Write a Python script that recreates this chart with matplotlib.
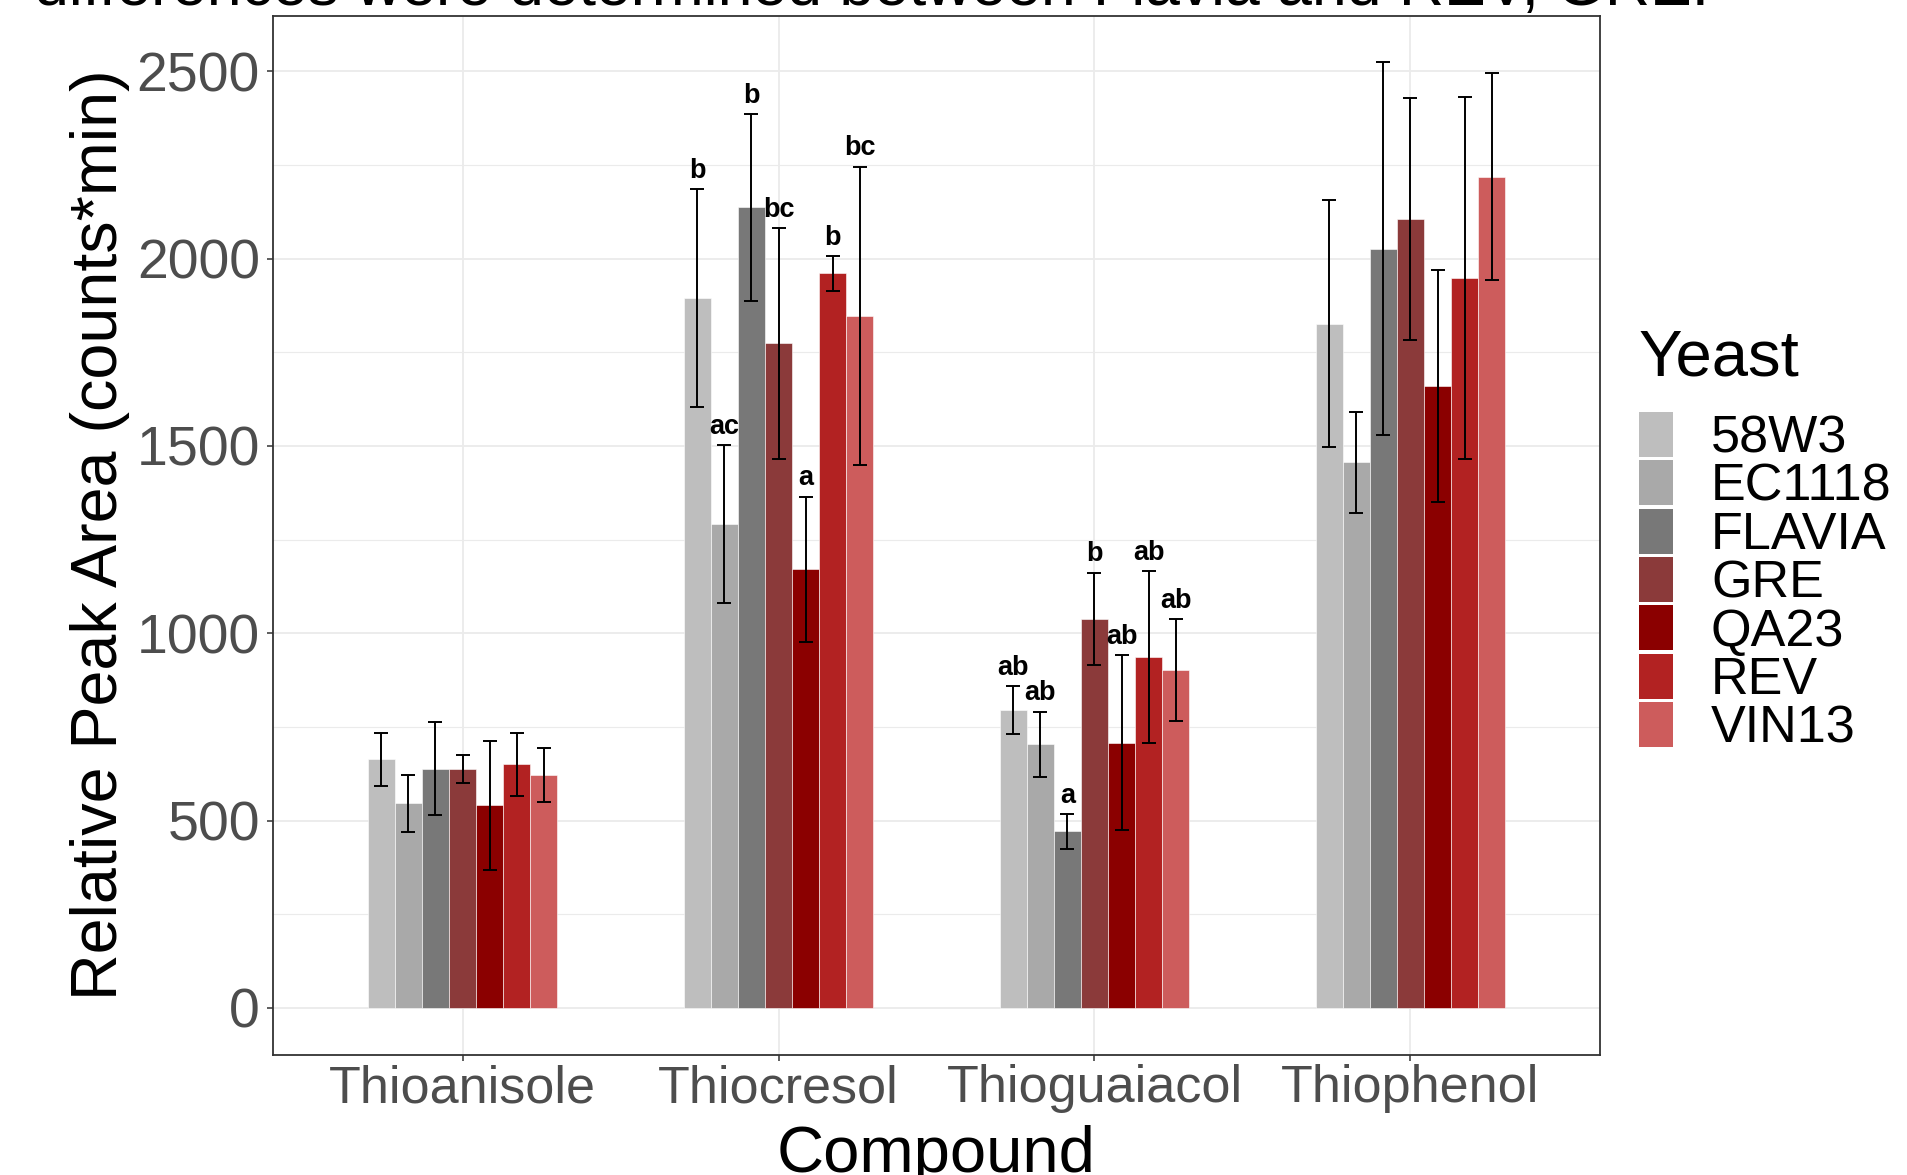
import numpy as np
import matplotlib.pyplot as plt
from matplotlib.patches import Rectangle

plt.rcParams['font.family'] = ['Liberation Sans', 'DejaVu Sans']

# data
compounds = ['Thioanisole', 'Thiocresol', 'Thioguaiacol', 'Thiophenol']
yeasts = ['58W3', 'EC1118', 'FLAVIA', 'GRE', 'QA23', 'REV', 'VIN13']
colors = ['#BEBEBE', '#A9A9A9', '#787878', '#8B3A3A', '#8B0000', '#B22222', '#CD5C5C']

# mean per yeast, one list per compound
thioanisole = [663, 546, 638, 638, 541, 650, 621]
thiocresol = [1895, 1292, 2137, 1774, 1171, 1961, 1847]
thioguaiacol = [795, 703, 471, 1038, 708, 937, 902]
thiophenol = [1827, 1456, 2027, 2106, 1661, 1949, 2219]

# error bar half widths
thioanisole_err = [71, 76, 124, 37, 172, 85, 72]
thiocresol_err = [292, 210, 250, 308, 194, 47, 399]
thioguaiacol_err = [63, 88, 47, 124, 233, 230, 136]
thiophenol_err = [331, 134, 497, 323, 310, 484, 277]

# significance letters (Thioanisole and Thiophenol have none)
thiocresol_lab = ['b', 'ac', 'b', 'bc', 'a', 'b', 'bc']
thioguaiacol_lab = ['ab', 'ab', 'a', 'b', 'ab', 'ab', 'ab']

means = np.array([thioanisole, thiocresol, thioguaiacol, thiophenol])
errs = np.array([thioanisole_err, thiocresol_err, thioguaiacol_err, thiophenol_err])
letters = [None, thiocresol_lab, thioguaiacol_lab, None]

W, H = 1908, 1175
fig = plt.figure(figsize=(W / 100, H / 100), dpi=100)
ax = fig.add_axes([273 / W, 1 - 1055 / H, (1600 - 273) / W, (1055 - 16) / H])

x = np.arange(1, len(compounds) + 1)
bw = 0.6 / len(yeasts)
for i, (yname, col) in enumerate(zip(yeasts, colors)):
    xs = x + (i - 3) * bw
    ax.bar(xs, means[:, i], width=bw, color=col, edgecolor='white', linewidth=0.4, zorder=2)
    ax.errorbar(xs, means[:, i], yerr=errs[:, i], fmt='none', ecolor='black',
                elinewidth=1.4, capsize=5, capthick=1.4, zorder=3)
    for j in range(len(compounds)):
        if letters[j] is not None:
            ax.annotate(letters[j][i], (xs[j], means[j, i] + errs[j, i]),
                        xytext=(0, 8), textcoords='offset points',
                        ha='center', va='baseline', fontsize=19.5, fontweight='bold', zorder=4)

ax.set_xlim(0.4, 4.6)
ax.set_ylim(-126, 2648)
ax.set_yticks([0, 500, 1000, 1500, 2000, 2500])
ax.set_yticks([250, 750, 1250, 1750, 2250], minor=True)
ax.set_xticks(x)
ax.set_xticklabels(compounds)
ax.grid(True, which='major', color='#EBEBEB', linewidth=1.3, zorder=0)
ax.grid(True, which='minor', axis='y', color='#EBEBEB', linewidth=0.8, zorder=0)
ax.set_axisbelow(True)
ax.tick_params(axis='both', which='major', length=4.5, width=1.1, color='#333333',
               labelcolor='#4D4D4D')
ax.tick_params(axis='y', which='major', labelsize=40, pad=5)
ax.tick_params(axis='x', which='major', labelsize=37.5, pad=2)
ax.tick_params(axis='y', which='minor', length=0)
for s in ax.spines.values():
    s.set_color('#333333')
    s.set_linewidth(1.3)

# axis titles
fig.text(100 / W, 1 - 535 / H, 'Relative Peak Area (counts*min)', rotation=90,
         ha='center', va='center', fontsize=46.5)
fig.text((273 + 1600) / 2 / W, 1 - 1172 / H, 'Compound', ha='center', va='baseline',
         fontsize=47)

# clipped caption line at the very top (cut off in the original too)
fig.text(34 / W, 1 - 5 / H, 'differences were determined between Flavia and REV, GRE.',
         ha='left', va='baseline', fontsize=45)

# legend
fig.text(1639 / W, 1 - 375 / H, 'Yeast', ha='left', va='baseline', fontsize=47)
row = 48.3
for i, (yname, col) in enumerate(zip(yeasts, colors)):
    top = 412 + i * row
    fig.patches.append(Rectangle((1639 / W, 1 - (top + 45) / H), 34 / W, 45 / H,
                                 transform=fig.transFigure, facecolor=col,
                                 edgecolor='none'))
    fig.text(1711 / W, 1 - (top + 22.5 + 18) / H, yname, ha='left', va='baseline',
             fontsize=37.5)

fig.savefig('out.png', dpi=100)
